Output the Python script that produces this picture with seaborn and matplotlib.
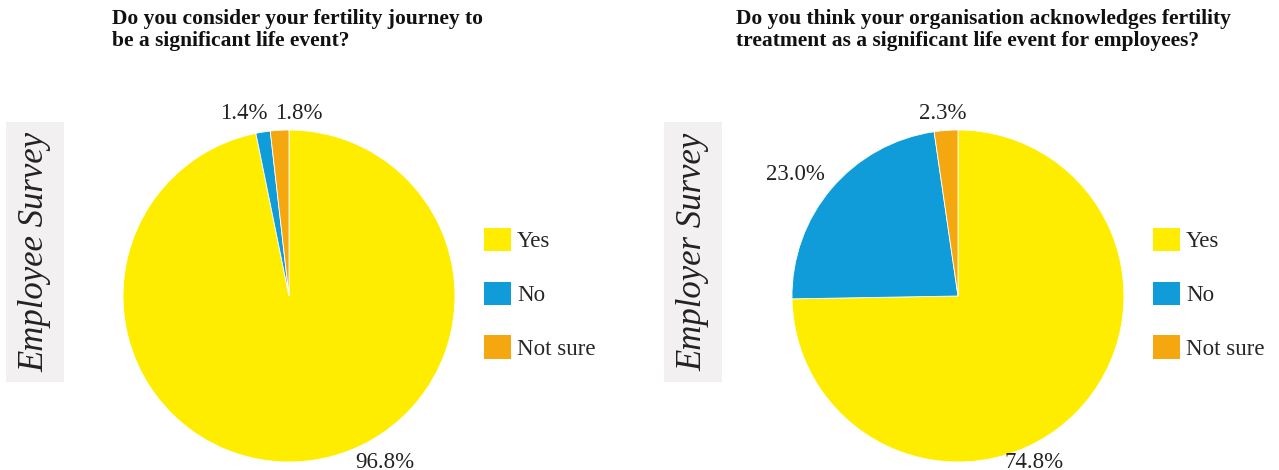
import matplotlib
matplotlib.use("Agg")
import matplotlib.pyplot as plt
from matplotlib.patches import Rectangle, Patch
import seaborn as sns

sns.set_theme(style="white")
plt.rcParams["font.family"] = ["Liberation Serif", "DejaVu Serif"]

# Survey data
categories = ["Yes", "No", "Not sure"]
employee_values = [96.8, 1.4, 1.8]
employer_values = [74.8, 23.0, 2.3]
employee_title = "Do you consider your fertility journey to\nbe a significant life event?"
employer_title = ("Do you think your organisation acknowledges fertility\n"
                  "treatment as a significant life event for employees?")
panel_labels = ["Employee Survey", "Employer Survey"]

colors = ["#FFED00", "#109CD8", "#F5A710"]

W, H = 1279, 470
fig = plt.figure(figsize=(W / 100, H / 100), dpi=100)
fig.patch.set_facecolor("white")


def fx(px):
    return px / W


def fy(py):
    return 1 - py / H


# label offsets (in pie radii) relative to the pie centre
employee_label_pos = [(0.58, -1.0), (-0.27, 1.10), (0.06, 1.10)]
employer_label_pos = [(0.46, -1.0), (-0.98, 0.73), (-0.09, 1.10)]


def draw_panel(box_x, title_x, pie_cx, legend_x, values, title, side_label, label_pos):
    # grey side label box
    fig.add_artist(Rectangle((fx(box_x), fy(382)), fx(58), (382 - 122) / H,
                             transform=fig.transFigure, facecolor="#F2F0F0",
                             edgecolor="none", zorder=0))
    fig.text(fx(box_x + 29), fy(252), side_label, rotation=90, ha="center",
             va="center", fontsize=25, style="italic", color="#222222")

    # title
    fig.text(fx(title_x), fy(9), title, ha="left", va="top", fontsize=15.5,
             fontweight="bold", color="#111111", linespacing=1.12)

    # pie
    r = 166
    cy = 296
    ax = fig.add_axes([fx(pie_cx - r), fy(cy + r), 2 * r / W, 2 * r / H])
    ax.pie(values, colors=colors, startangle=90, counterclock=False,
           radius=1, wedgeprops=dict(linewidth=0.6, edgecolor="white"))
    ax.set_xlim(-1, 1)
    ax.set_ylim(-1, 1)
    ax.set_aspect("equal")
    ax.axis("off")
    for v, (lx, ly) in zip(values, label_pos):
        ax.text(lx, ly, f"{v:.1f}%", ha="center", va="center", fontsize=16.5,
                color="#222222", clip_on=False)

    # legend
    handles = [Patch(facecolor=c, edgecolor="none") for c in colors]
    fig.legend(handles, categories, loc="upper left",
               bbox_to_anchor=(fx(legend_x), fy(228)), frameon=False,
               borderpad=0, borderaxespad=0, fontsize=16.5,
               handlelength=1.18, handleheight=1.18, handletextpad=0.26,
               labelspacing=1.28)


draw_panel(6, 112, 289, 484, employee_values, employee_title,
           panel_labels[0], employee_label_pos)
draw_panel(664, 736, 958, 1153, employer_values, employer_title,
           panel_labels[1], employer_label_pos)

fig.savefig("out.png", dpi=100, facecolor="white")
